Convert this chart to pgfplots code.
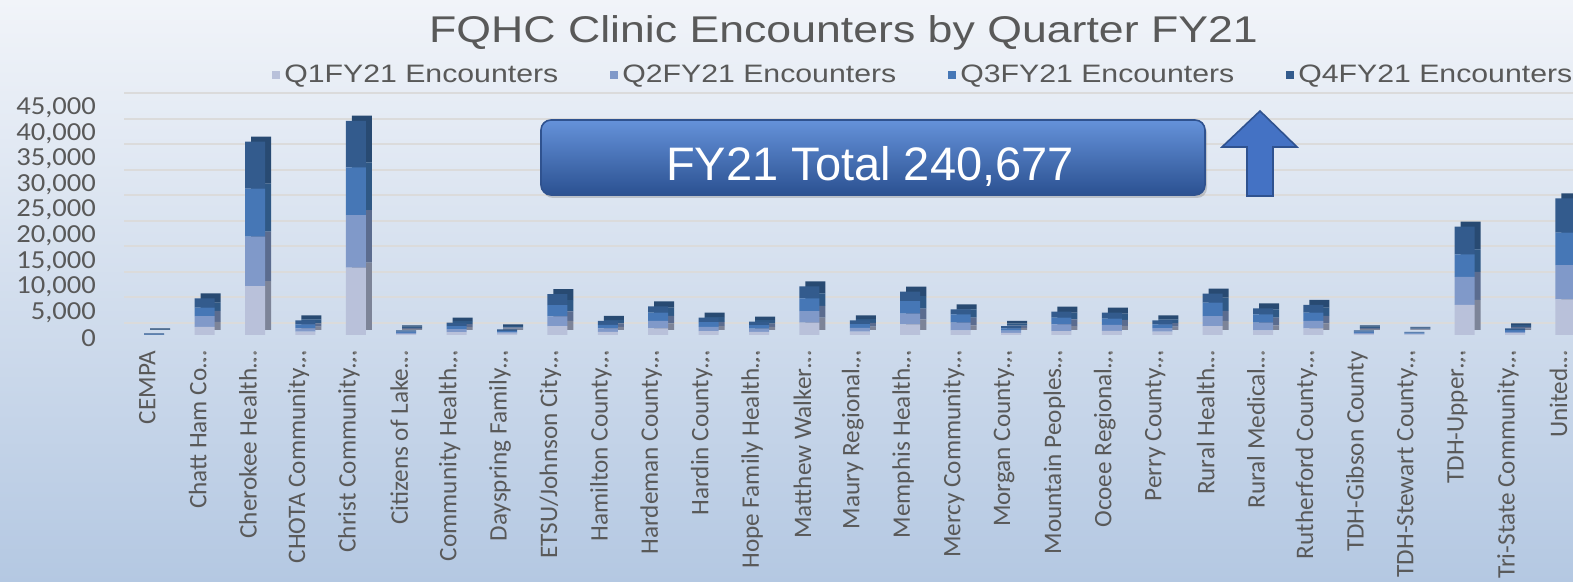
\documentclass[border=0pt]{standalone}
\usepackage{fontspec}
\setmainfont{Carlito}
\newfontfamily\arialfont{Liberation Sans}
\newfontfamily\arialwide{Liberation Sans}[FakeStretch=1.2]
\newfontfamily\calwide{Carlito}[FakeStretch=1.1]
\usepackage{pgfplots}
\pgfplotsset{compat=1.18}
\usepackage{pgfplotstable}
\usetikzlibrary{shadows}

\definecolor{txt}{HTML}{595959}
\definecolor{qa}{HTML}{B9C1DA}
\definecolor{qb}{HTML}{8099C9}
\definecolor{qc}{HTML}{4677B6}
\definecolor{qd}{HTML}{335B8D}
\definecolor{sa}{HTML}{7D8498}
\definecolor{sb}{HTML}{5B6C8F}
\definecolor{sc}{HTML}{2F5885}
\definecolor{sd}{HTML}{284A72}
\definecolor{bgtop}{HTML}{F1F4F9}
\definecolor{bgbot}{HTML}{B4C8E2}
\definecolor{boxtop}{HTML}{6592DA}
\definecolor{boxmid}{HTML}{2F5597}
\definecolor{boxbot}{HTML}{2B5191}
\definecolor{arrowfill}{HTML}{4472C4}
\definecolor{arrowline}{HTML}{2F528F}

% encounters per quarter
\pgfplotstableread{
x q1 q2 q3 q4
0 0 0 50 250
1 1565 2151 1629 1825
2 9584 9643 9389 9194
3 650 650 790 780
4 13164 10308 9330 9115
5 200 200 250 250
6 550 600 600 660
7 250 280 280 300
8 1760 1900 2200 2140
9 600 700 700 740
10 1300 1440 1630 1240
11 750 850 900 890
12 600 650 680 680
13 2410 2284 2476 2350
14 650 720 750 750
15 2090 2080 2480 1825
16 910 1500 1630 980
17 400 450 450 460
18 780 1310 1300 1170
19 800 1200 1200 1170
20 650 700 750 770
21 1760 1956 2609 1755
22 910 1500 1630 1180
23 1300 1440 1630 1500
24 200 220 230 250
25 130 150 160 160
26 5870 5480 4430 5410
27 300 330 330 340
28 6980 6710 6330 6710
}\data

% the two dots under each truncated label (set just below the bar)
\newcommand\vd{\raisebox{-4pt}[0pt][0pt]{\fontsize{9}{9}\selectfont\bfseries.\hspace{1.5pt}.}\hspace{-6pt}}

\pgfplotsset{
  base/.style={
    at={(62pt,123.5pt)}, anchor=south west,
    scale only axis, width=724.5pt, height=115pt,
    xmin=-0.6, xmax=28.15, ymin=0, ymax=45000,
    ybar stacked, bar width=10pt,
    axis line style={draw=none},
    ytick={0,5000,...,45000},
    scaled y ticks=false,
    tick pos=left,
  },
}

\begin{document}
\begin{tikzpicture}
\shade[top color=bgtop, bottom color=bgbot] (0,0) rectangle (786.5pt,291pt);
\path[use as bounding box] (0,0) rectangle (786.5pt,291pt);

\node[anchor=base, text=txt, font=\arialwide\fontsize{18.6}{20}\selectfont]
  at (421.75pt,269.5pt) {FQHC Clinic Encounters by Quarter FY21};

% back faces (side and top of the 3-D columns) and the wall grid
\begin{axis}[base, bar shift=3pt, major tick length=0pt,
  yticklabels={}, xtick=\empty,
  ymajorgrids, major grid style={draw=black!14, line width=1pt, yshift=6pt},
  every axis plot/.append style={yshift=2.5pt, draw=none}]
\addplot[fill=sa] table[x=x,y=q1]{\data};
\addplot[fill=sb] table[x=x,y=q2]{\data};
\addplot[fill=sc] table[x=x,y=q3]{\data};
\addplot[fill=sd] table[x=x,y=q4]{\data};
\end{axis}

% front faces
\begin{axis}[base, bar shift=0pt,
  major tick length=6.5pt, tick align=outside,
  ytick style={draw=none}, xtick style={draw=none},
  /pgf/number format/1000 sep={,},
  /pgf/number format/assume math mode=true,
  yticklabel style={font=\calwide\fontsize{13}{14}\selectfont, text=txt, xshift=-4pt, yshift=-1.5pt},
  xtick={0,...,28},
  xticklabels={CEMPA, Chatt Ham Co…, Cherokee Health…, CHOTA Community…,
    Christ Community…, Citizens of Lake…, Community Health…, Dayspring Family…,
    ETSU/Johnson City…, Hamilton County…, Hardeman County…, Hardin County…,
    Hope Family Health…, Matthew Walker…, Maury Regional…, Memphis Health…,
    Mercy Community…, Morgan County…, Mountain Peoples…, Ocoee Regional…,
    Perry County…, Rural Health…, Rural Medical…, Rutherford County…,
    TDH-Gibson County, TDH-Stewart County…, TDH-Upper…, Tri-State Community…,
    United…},
  xticklabel style={font=\fontsize{12.6}{14}\selectfont, text=txt, xshift=-3.5pt, yshift=2pt, rotate=90, anchor=east},
  extra x ticks={1,...,23,25,26,27,28},
  extra x tick labels={\vd,\vd,\vd,\vd,\vd,\vd,\vd,\vd,\vd,\vd,\vd,\vd,\vd,\vd,\vd,
    \vd,\vd,\vd,\vd,\vd,\vd,\vd,\vd,\vd,\vd,\vd,\vd},
  extra x tick style={xticklabel style={text=black!50}},
  legend columns=4,
  legend style={at={(0.1021,1.1304)}, anchor=west, draw=none, fill=none,
    inner sep=0pt, text=txt, font=\arialwide\fontsize{12.6}{14}\selectfont,
    /tikz/every even column/.append style={column sep=24pt}},
  legend image code/.code={\fill[#1] (0pt,-2pt) rectangle (4pt,2pt);},
  every axis plot/.append style={draw=none}]
\addplot[fill=qa] table[x=x,y=q1]{\data};
\addplot[fill=qb] table[x=x,y=q2]{\data};
\addplot[fill=qc] table[x=x,y=q3]{\data};
\addplot[fill=qd] table[x=x,y=q4]{\data};
\legend{Q1FY21 Encounters, Q2FY21 Encounters, Q3FY21 Encounters, Q4FY21 Encounters}
\end{axis}

% total box and arrow
\shade[top color=boxtop, middle color=boxmid, bottom color=boxbot,
  rounded corners=5pt, drop shadow={opacity=0.35, shadow xshift=1pt, shadow yshift=-1.5pt}]
  (270.5pt,193.5pt) rectangle (602.5pt,231pt);
\draw[arrowline, line width=0.8pt, rounded corners=5pt] (270.5pt,193.5pt) rectangle (602.5pt,231pt);
\node[anchor=base, text=white, font=\arialfont\fontsize{23.5}{26}\selectfont]
  at (435pt,200.6pt) {FY21 Total 240,677};
\filldraw[fill=arrowfill, draw=arrowline, line width=0.8pt]
  (623.5pt,193pt) -- (623.5pt,217.5pt) -- (611pt,217.5pt) -- (630pt,235.5pt)
  -- (648.5pt,217.5pt) -- (636.5pt,217.5pt) -- (636.5pt,193pt) -- cycle;
\end{tikzpicture}
\end{document}
